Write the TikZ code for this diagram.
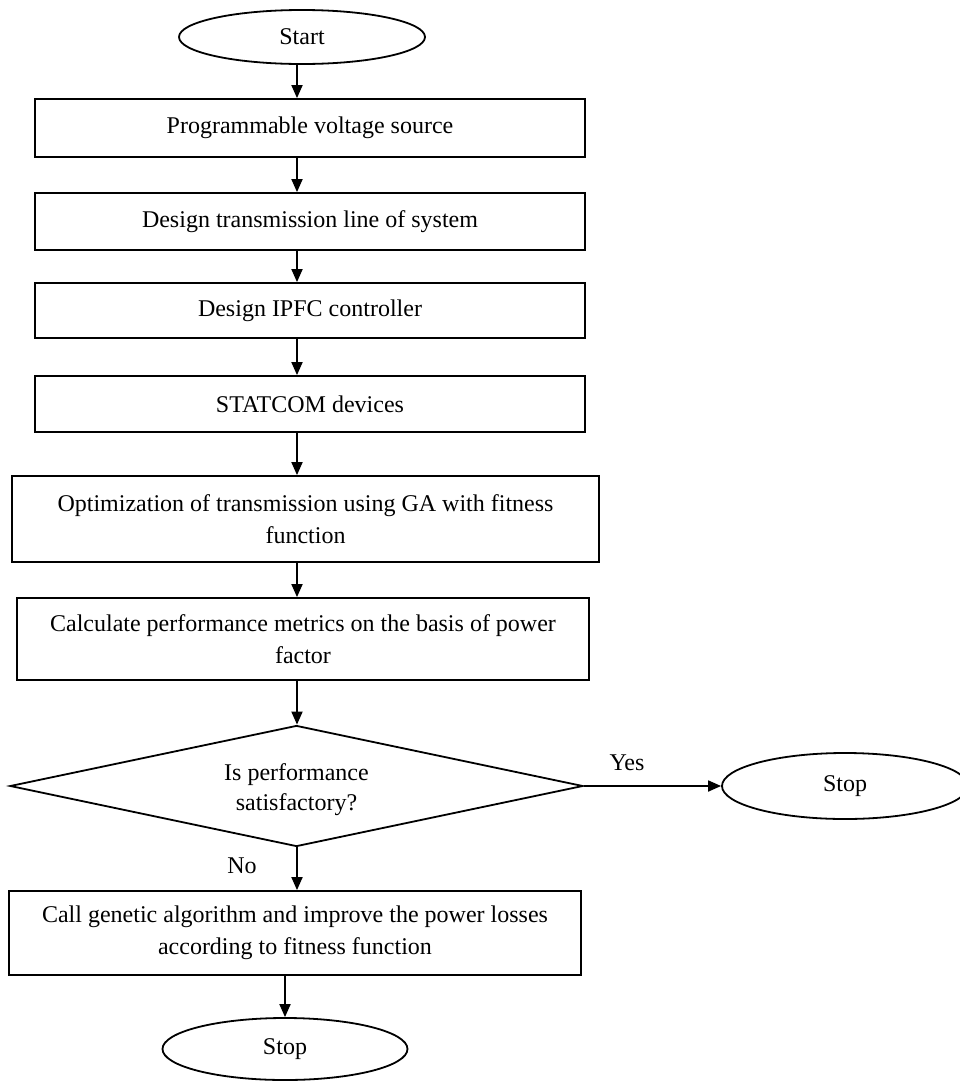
\documentclass[tikz,border=0pt]{standalone}
\usepackage{fontspec}
\setmainfont{Liberation Serif}
\usetikzlibrary{shapes.geometric,arrows.meta}

\begin{document}
\begin{tikzpicture}[x=0.5pt,y=-0.5pt,
    caja/.style={draw,line width=0.9pt,align=center,inner sep=2pt,font=\fontsize{12}{16}\selectfont},
    elipse/.style={draw,ellipse,line width=0.9pt,inner sep=0pt,font=\fontsize{12}{16}\selectfont},
    rombo/.style={draw,diamond,aspect=4.7,line width=0.9pt,inner sep=0pt},
    flecha/.style={-{Triangle[length=6.5pt,width=5.5pt]},line width=0.9pt},
    etiqueta/.style={font=\fontsize{12}{15}\selectfont,align=center}]
    \useasboundingbox (0,0) rectangle (959,1082);

    % Nodos
    \node[elipse,minimum width=123pt,minimum height=27pt] (start) at (302,37) {Start};
    \node[caja,minimum width=275pt,minimum height=29pt] (source) at (310,128) {Programmable voltage source};
    \node[caja,minimum width=275pt,minimum height=28.5pt] (line) at (310,221.5) {Design transmission line of system};
    \node[caja,minimum width=275pt,minimum height=27.5pt] (ipfc) at (310,310.5) {Design IPFC controller};
    \node[caja,minimum width=275pt,minimum height=28pt] (statcom) at (310,404) {STATCOM devices};
    \node[caja,minimum width=293.5pt,minimum height=43pt] (optim) at (305.5,519) {Optimization of transmission using GA with fitness\\ function};
    \node[caja,minimum width=286pt,minimum height=41pt] (metrics) at (303,639) {Calculate performance metrics on the basis of power\\ factor};
    \node[rombo,minimum width=286.5pt,minimum height=60.5pt] (check) at (296.5,786) {};
    \node[etiqueta] (checktext) at (296.5,790) {Is performance\\ satisfactory?};
    \node[elipse,minimum width=123pt,minimum height=33pt] (stopyes) at (845,786) {Stop};
    \node[caja,minimum width=286pt,minimum height=42pt] (genetic) at (295,933) {Call genetic algorithm and improve the power losses\\ according to fitness function};
    \node[elipse,minimum width=122.5pt,minimum height=31pt] (stop) at (285,1049) {Stop};
    \coordinate (eje) at (297,0);

    % Flechas
    \draw[flecha] (start.south -| eje) -- (source.north -| eje);
    \draw[flecha] (source.south -| eje) -- (line.north -| eje);
    \draw[flecha] (line.south -| eje) -- (ipfc.north -| eje);
    \draw[flecha] (ipfc.south -| eje) -- (statcom.north -| eje);
    \draw[flecha] (statcom.south -| eje) -- (optim.north -| eje);
    \draw[flecha] (optim.south -| eje) -- (metrics.north -| eje);
    \draw[flecha] (metrics.south -| eje) -- (check.north -| eje);
    \draw[flecha] (check.east) -- (stopyes.west);
    \draw[flecha] (check.south -| eje) -- (genetic.north -| eje);
    \draw[flecha] (genetic.south -| stop) -- (stop.north);

    % Etiquetas
    \node[etiqueta] (yes) at (627,763) {Yes};
    \node[etiqueta] (no) at (242,866) {No};
\end{tikzpicture}
\end{document}
